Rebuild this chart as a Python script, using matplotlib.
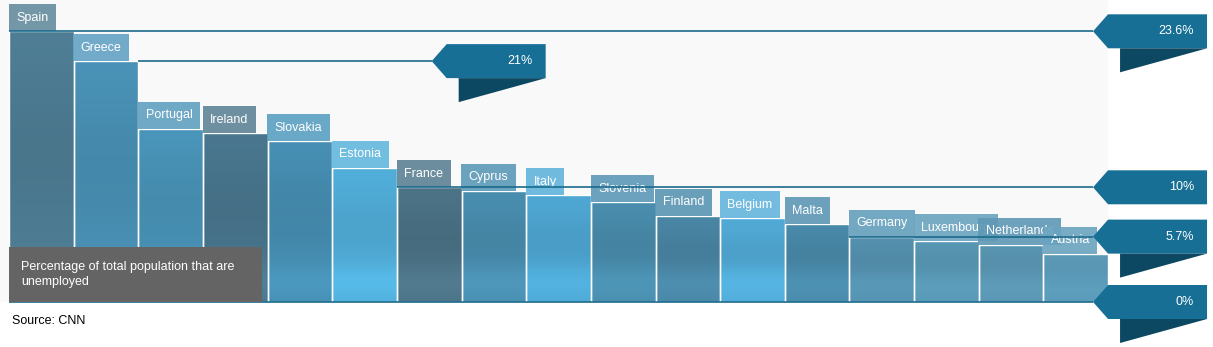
import numpy as np
import matplotlib.pyplot as plt
from matplotlib.patches import Rectangle, Polygon
from matplotlib.colors import to_rgb

plt.rcParams['font.family'] = ['Liberation Sans', 'DejaVu Sans']

countries = ['Spain', 'Greece', 'Portugal', 'Ireland', 'Slovakia', 'Estonia', 'France',
             'Cyprus', 'Italy', 'Slovenia', 'Finland', 'Belgium', 'Malta', 'Germany',
             'Luxembourg', 'Netherlands', 'Austria']
values = [23.6, 21.0, 15.1, 14.7, 14.0, 11.7, 10.0, 9.7, 9.3, 8.7, 7.5, 7.3, 6.8,
          5.7, 5.3, 5.0, 4.2]
bar_colors = ['#4f7f96', '#4a93b8', '#4a96bb', '#4a7890', '#4790b5', '#52b0dc', '#4d7488',
              '#4a8fb1', '#4fa9d5', '#4a8eae', '#4a87a6', '#52acd8', '#4a8bab', '#5592b0',
              '#5898b5', '#5a96b3', '#5b9ab8']
label_colors = ['#668c9e', '#63a3c4', '#60a0c0', '#5f8496', '#5a9fc2', '#62b8df', '#5d8194',
                '#5c9ab8', '#61b3dc', '#5d99b8', '#5b95b3', '#64b6de', '#5e97b5', '#659fbe',
                '#6aa4c0', '#5f99b6', '#6aa4c0']

# reference marks: value, text, bar where the line starts, bar where the callout sits
mark_values = [23.6, 21.0, 10.0, 5.7, 0.0]
mark_texts = ['23.6%', '21%', '10%', '5.7%', '0%']
mark_start = [0, 2, 6, 13, 0]
mark_at = [17, 6.77, 17, 17, 17]
mark_shadow = [True, True, False, True, True]

W, H = 1213, 347
bw = 64.65      # pixels per bar
ppu = 11.47     # pixels per percentage point
x0_px, base_px = 9, 302

fig = plt.figure(figsize=(W / 100, H / 100), dpi=100)
ax = fig.add_axes([0, 0, 1, 1])
ax.set_xlim(-x0_px / bw, (W - x0_px) / bw)
ax.set_ylim(-(H - base_px) / ppu, base_px / ppu)
ax.axis('off')

# light panel behind the bars
ax.add_patch(Rectangle((-x0_px / bw, 0), 17 + x0_px / bw, base_px / ppu,
                       color='#f9f9f9', zorder=0, lw=0))

# bars with a soft vertical wash
x = np.arange(len(values))
bars = ax.bar(x, values, width=1, align='edge', color=bar_colors,
              edgecolor='white', linewidth=1, zorder=2)
for i, (b, v) in enumerate(zip(bars, values)):
    ys = np.linspace(v, 0, 120)
    shade = 1 - 0.07 * np.exp(-((ys - v * 0.55) / (v * 0.3)) ** 2) \
        + 0.07 * np.exp(-((ys - 1.8) / 1.4) ** 2)
    rgb = np.clip(np.array(to_rgb(bar_colors[i]))[None, :] * shade[:, None], 0, 1)
    im = ax.imshow(rgb[:, None, :], extent=(i, i + 1, 0, v), aspect='auto',
                   interpolation='bilinear', zorder=2)
    im.set_clip_path(b)
ax.bar(x, values, width=1, align='edge', color='none',
       edgecolor='white', linewidth=1, zorder=2.5)

# country labels sitting on the bar tops
for i, (name, v) in enumerate(zip(countries, values)):
    ax.annotate(name, (i, v), xytext=(5.2, 5.4), textcoords='offset points',
                ha='left', va='bottom', color='white', fontsize=9, zorder=3,
                bbox=dict(boxstyle='square,pad=0.6', fc=label_colors[i],
                          ec='none', alpha=0.9))

# reference lines and arrow callouts
h = 17 / ppu
tip = 15 / bw
wide = 99 / bw
sh_x = 12 / bw
sh_d = 24 / ppu
for v, t, s, at, shd in zip(mark_values, mark_texts, mark_start, mark_at, mark_shadow):
    left = at - tip
    ax.plot([s, left], [v, v], color='#1b6a8c', lw=1.2, zorder=4,
            solid_capstyle='butt')
    ax.add_patch(Polygon([(left, v), (at, v + h), (at + wide, v + h),
                          (at + wide, v - h), (at, v - h)],
                         closed=True, fc='#176f96', ec='none', zorder=5))
    if shd:
        ax.add_patch(Polygon([(at + sh_x, v - h), (at + wide, v - h),
                              (at + sh_x, v - h - sh_d)],
                             closed=True, fc='#0d4862', ec='none', zorder=5))
    ax.text(at + wide - 13 / bw, v, t, ha='right', va='center',
            color='white', fontsize=9, zorder=6)

# caption box
ax.add_patch(Rectangle((0, 0), 253 / bw, 55 / ppu, fc='#646464', ec='none', zorder=6))
ax.text(12 / bw, 27.5 / ppu, 'Percentage of total population that are\nunemployed',
        ha='left', va='center', color='white', fontsize=9, linespacing=1.35, zorder=7)

ax.text(3 / bw, -19 / ppu, 'Source: CNN', ha='left', va='center',
        color='black', fontsize=9)

fig.savefig('out.png', dpi=100, facecolor='white')
